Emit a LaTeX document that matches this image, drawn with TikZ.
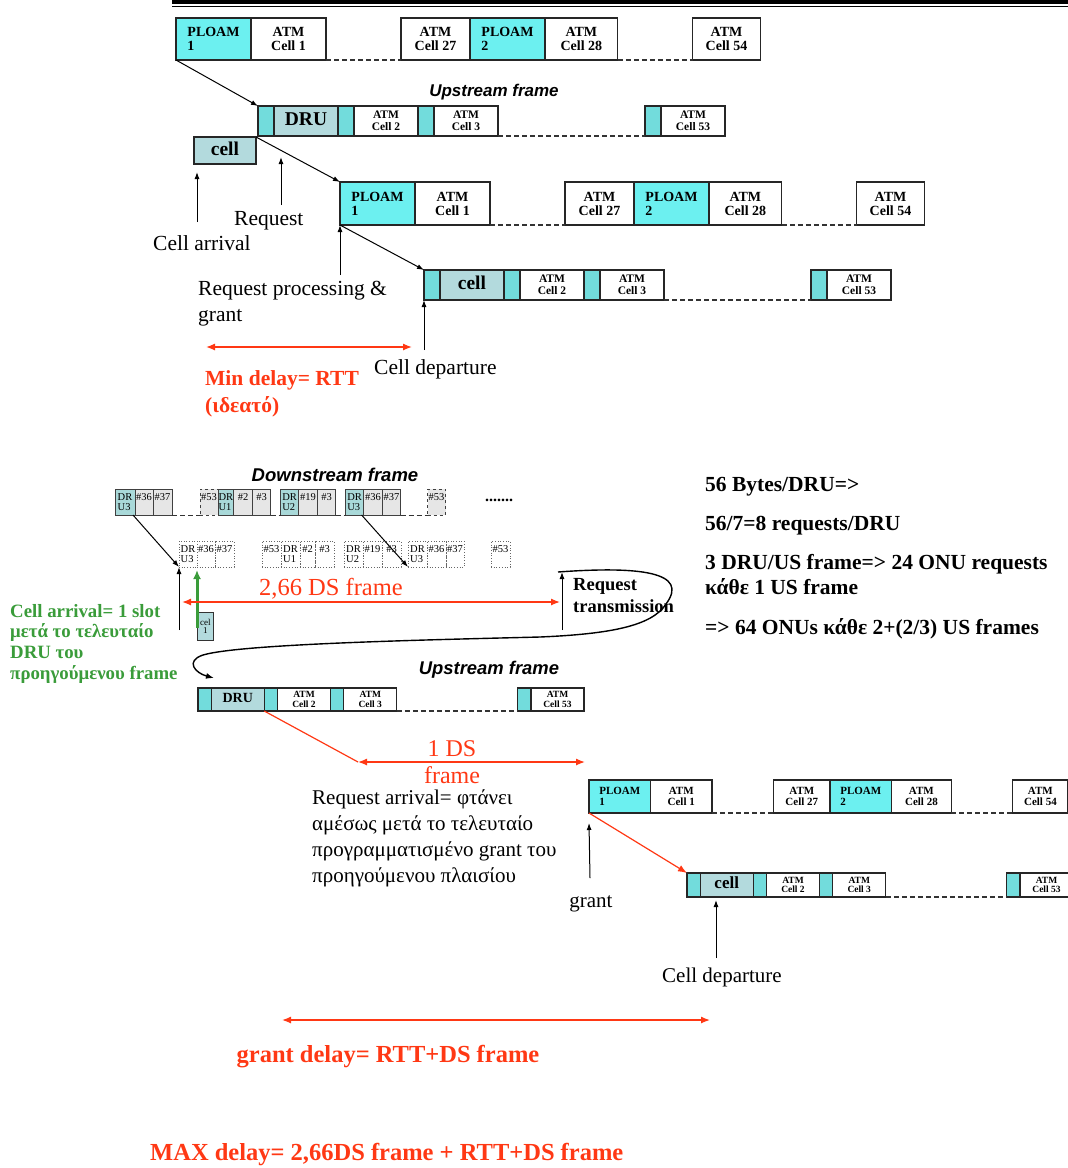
\documentclass[tikz,border=0pt]{standalone}
\usepackage{fontspec}
\setmainfont{Liberation Serif}
\setsansfont{Liberation Sans}
\usetikzlibrary{positioning}
\usetikzlibrary{arrows.meta}

\definecolor{ploam}{HTML}{6CF0F0}
\definecolor{guard}{HTML}{72DCDC}
\definecolor{drublue}{HTML}{B3DADD}
\definecolor{drcol}{HTML}{A9D9D9}
\definecolor{numgray}{HTML}{E6E6E6}
\definecolor{delayred}{HTML}{FF3814}
\definecolor{notegreen}{HTML}{3A9C3A}

\newcommand{\fsz}[2]{\fontsize{#1}{#2}\selectfont}

% downstream frame: name, x, y, unit, height, font size
\newcommand{\dsframe}[6]{%
\node[pl, minimum width=#4, minimum height=#5, font=\bfseries\fsz{#6}{#6}] (pa#1) at (#2,#3) {PLOAM\\1};
\node[atm, minimum width=#4, minimum height=#5, font=\bfseries\fsz{#6}{#6}, right=0pt of pa#1] (ca#1) {ATM\\Cell 1};
\node[atm, minimum width=0.92*#4, minimum height=#5, font=\bfseries\fsz{#6}{#6}, right=#4pt of ca#1] (cb#1) {ATM\\Cell 27};
\node[pl, minimum width=#4, minimum height=#5, font=\bfseries\fsz{#6}{#6}, right=0pt of cb#1] (pb#1) {PLOAM\\2};
\node[atm, minimum width=0.97*#4, minimum height=#5, font=\bfseries\fsz{#6}{#6}, right=0pt of pb#1] (cc#1) {ATM\\Cell 28};
\node[atm, minimum width=0.9*#4, minimum height=#5, font=\bfseries\fsz{#6}{#6}, right=#4pt of cc#1] (cd#1) {ATM\\Cell 54};
\draw[gapline] (ca#1.south east) -- (cb#1.south west) (cc#1.south east) -- (cd#1.south west);
}

% upstream frame: name, x, y, unit, height, font size, first slot, its font size, gap
\newcommand{\usframe}[9]{%
\node[gd, minimum width=0.25*#4, minimum height=#5] (ga#1) at (#2,#3) {};
\node[du, minimum width=#4, minimum height=#5, font=\bfseries\fsz{#8}{#8}, right=0pt of ga#1] (du#1) {#7};
\node[gd, minimum width=0.25*#4, minimum height=#5, right=0pt of du#1] (gb#1) {};
\node[atm, minimum width=#4, minimum height=#5, font=\bfseries\fsz{#6}{#6}, right=0pt of gb#1] (ub#1) {ATM\\Cell 2};
\node[gd, minimum width=0.25*#4, minimum height=#5, right=0pt of ub#1] (gc#1) {};
\node[atm, minimum width=#4, minimum height=#5, font=\bfseries\fsz{#6}{#6}, right=0pt of gc#1] (uc#1) {ATM\\Cell 3};
\node[gd, minimum width=0.25*#4, minimum height=#5, right=#9pt of uc#1] (gx#1) {};
\node[atm, minimum width=#4, minimum height=#5, font=\bfseries\fsz{#6}{#6}, right=0pt of gx#1] (ud#1) {ATM\\Cell 53};
\draw[gapline] (uc#1.south east) -- (gx#1.south west);
}

\begin{document}
\begin{tikzpicture}[x=1pt, y=-1pt,
  slt/.style={draw=black!85, line width=1.3pt, inner sep=0pt, outer sep=0pt, anchor=north west},
  pl/.style={slt, fill=ploam, align=left},
  atm/.style={slt, fill=white, align=center},
  gd/.style={slt, fill=guard},
  du/.style={slt, fill=drublue, text depth=0.4em},
  gapline/.style={line width=1.1pt, dash pattern=on 5pt off 3pt, black!80},
  rowbox/.style={draw=black!75, line width=0.7pt, inner sep=0.5pt, outer sep=0pt, anchor=north west, align=left, minimum height=26, font=\fsz{10.5}{10}},
  drb/.style={rowbox, fill=drcol},
  nmb/.style={rowbox, fill=numgray},
  dtb/.style={rowbox, draw=black!60, dotted},
  lbl/.style={inner sep=0pt, font=\fsz{21.5}{26}},
  blbl/.style={inner sep=0pt, font=\bfseries\fsz{21.5}{25}},
  ttl/.style={inner sep=0pt, font=\sffamily\bfseries\itshape\fsz{18}{18}},
  arr/.style={-{Latex[length=7pt,width=5pt]}, line width=1pt},
  rarr/.style={{Latex[length=9pt,width=7pt]}-{Latex[length=9pt,width=7pt]}, line width=1.3pt, draw=delayred},
  rline/.style={line width=1.2pt, draw=delayred}]
\useasboundingbox (0,0) rectangle (1068,1168);

% header rule
\coordinate (hl) at (172,2);
\coordinate (hr) at (1068,2);
\draw[line width=4pt] (hl) -- (hr);
\draw[line width=1.2pt] ([yshift=-4.5pt]hl) -- ([yshift=-4.5pt]hr);

% minimum delay case
\dsframe{A}{176}{18}{75}{42}{14}
\node[ttl, font=\sffamily\bfseries\itshape\fsz{17}{17}] (usA) at (494,92) {Upstream frame};
\usframe{B}{258}{106}{64}{30}{11.5}{DRU}{19.5}{147}
\node[du, minimum width=62, minimum height=27, font=\bfseries\fsz{19.5}{19.5}] (cellb) at (194,137) {cell};
\dsframe{C}{340}{182}{75}{43}{14}
\usframe{D}{424}{270}{64}{30}{11.5}{cell}{19.5}{147}

\draw[arr] (paA.south west) -- (gaB.north west);
\draw[arr] (cellb.north east) -- (paC.north west);
\draw[arr] (paC.south west) -- (gaD.north west);

\node[lbl, anchor=west] (lreq) at (234,221) {Request};
\node[lbl, anchor=west] (larr) at (153,243) {Cell arrival};
\node[lbl, anchor=north west, align=left] (lproc) at (198,281) {Request processing \&\\grant};
\node[lbl, anchor=west] (ldep) at (374,369) {Cell departure};
\node[blbl, anchor=north west, align=left, text=delayred, font=\bfseries\fsz{21.5}{27}] (lmin) at (205,370) {Min delay= RTT\\(ιδεατό)};

\coordinate (arvB) at (197,222);
\coordinate (arvT) at (197,172);
\coordinate (rqB) at (281,205);
\coordinate (rqT) at (281,157);
\coordinate (rpB) at (340,275);
\coordinate (cdB) at (424,350);
\coordinate (mdL) at (206,347);
\coordinate (mdR) at (412,347);
\draw[arr] (arvB) -- (arvT);
\draw[arr] (rqB) -- (rqT);
\draw[arr] (rpB) -- (paC.south west);
\draw[arr] (cdB) -- (gaD.south west);
\draw[rarr] (mdL) -- (mdR);

% maximum delay case
\node[ttl, font=\sffamily\bfseries\itshape\fsz{18.5}{18.5}] (dsT) at (335,475) {Downstream frame};
\node[drb, minimum width=20] (ra1) at (115,489) {DR\\U3};
\node[nmb, minimum width=18, right=0pt of ra1] (ra2) {\#36\\~};
\node[nmb, minimum width=19, right=0pt of ra2] (ra3) {\#37\\~};
\node[nmb, dashed, minimum width=18, right=28pt of ra3] (ra4) {\#53\\~};
\node[drb, minimum width=15, right=0pt of ra4] (ra5) {DR\\U1};
\node[nmb, minimum width=19, right=0pt of ra5] (ra6) {\#2\\~};
\node[nmb, minimum width=18, right=0pt of ra6] (ra7) {\#3\\~};
\node[drb, minimum width=18, right=10pt of ra7] (ra8) {DR\\U2};
\node[nmb, minimum width=19, right=0pt of ra8] (ra9) {\#19\\~};
\node[nmb, minimum width=18, right=0pt of ra9] (ra10) {\#3\\~};
\node[drb, minimum width=18, right=10pt of ra10] (ra11) {DR\\U3};
\node[nmb, minimum width=19, right=0pt of ra11] (ra12) {\#36\\~};
\node[nmb, minimum width=18, right=0pt of ra12] (ra13) {\#37\\~};
\node[nmb, dashed, minimum width=18, right=27pt of ra13] (ra14) {\#53\\~};
\draw[gapline, line width=0.9pt] (ra3.south east) -- (ra4.south west) (ra7.south east) -- (ra8.south west) (ra10.south east) -- (ra11.south west) (ra13.south east) -- (ra14.south west);
\node[inner sep=0pt, font=\bfseries\fsz{16}{16}] (dots) at (499,500) {.......};

\node[dtb, minimum width=18] (rb1) at (179,541) {DR\\U3};
\node[dtb, minimum width=18, right=0pt of rb1] (rb2) {\#36\\~};
\node[dtb, minimum width=19, right=0pt of rb2] (rb3) {\#37\\~};
\node[dtb, minimum width=19, right=28pt of rb3] (rb4) {\#53\\~};
\node[dtb, minimum width=19, right=0pt of rb4] (rb5) {DR\\U1};
\node[dtb, minimum width=15, right=0pt of rb5] (rb6) {\#2\\~};
\node[dtb, minimum width=19, right=0pt of rb6] (rb7) {\#3\\~};
\node[dtb, minimum width=19, right=10pt of rb7] (rb8) {DR\\U2};
\node[dtb, minimum width=19, right=0pt of rb8] (rb9) {\#19\\~};
\node[dtb, minimum width=19, right=0pt of rb9] (rb10) {\#3\\~};
\node[dtb, minimum width=19, right=7pt of rb10] (rb11) {DR\\U3};
\node[dtb, minimum width=19, right=0pt of rb11] (rb12) {\#36\\~};
\node[dtb, minimum width=18, right=0pt of rb12] (rb13) {\#37\\~};
\node[dtb, minimum width=19, right=27pt of rb13] (rb14) {\#53\\~};
\draw[arr] ([xshift=-2pt]ra1.south east) -- (rb1.south west);
\draw[arr] ([xshift=-2pt]ra11.south east) -- (rb11.south west);

\node[draw=black!80, line width=0.8pt, fill=drublue, anchor=north west, inner sep=0pt, minimum width=16, minimum height=28, align=center, font=\fsz{9}{8}] (cel1) at (197,612) {cel\\1};
\coordinate (caB) at (179,630);
\coordinate (grB) at (197,628);
\coordinate (dfL) at (182,602);
\coordinate (dfR) at (560,602);
\coordinate (rtB) at (562,630);
\coordinate (rtT) at (562,572);
\coordinate (rtxa) at (558,572);
\coordinate (rtxb) at (214,678);
\draw[arr] (caB) -- (rb1.south west);
\draw[-{Latex[length=9pt,width=8pt]}, line width=3pt, draw=notegreen, shorten >=3pt] (grB) -- (rb1.south east);
\draw[rarr] (dfL) -- (dfR);
\draw[arr] (rtB) -- (rtT);
\node[inner sep=0pt, text=delayred, font=\fsz{24.5}{24.5}] (l266) at (331,589) {2,66 DS frame};
\node[inner sep=0pt, anchor=north west, align=left, font=\bfseries\fsz{18.5}{22}] (lrtx) at (573,578) {Request\\transmission};
\draw[line width=1.4pt, -{Latex[length=8pt,width=6pt]}] (rtxa) .. controls (640,566) and (690,572) .. (666,604) .. controls (652,626) and (610,634) .. (540,637) .. controls (420,640) and (240,644) .. (203,655) .. controls (185,661) and (195,673) .. (rtxb);
\node[inner sep=0pt, anchor=north west, align=left, text=notegreen, font=\bfseries\fsz{18.8}{20.7}] (lgreen) at (10,604) {Cell arrival= 1 slot\\μετά το τελευταίο\\DRU του\\προηγούμενου frame};
\node[blbl, anchor=north west, align=left] (lcalc) at (705,477) {56 Bytes/DRU=>\\[14pt]56/7=8 requests/DRU\\[14pt]3 DRU/US frame=> 24 ONU requests\\κάθε 1 US frame\\[15pt]=> 64 ONUs κάθε 2+(2/3) US frames};

\node[ttl, font=\sffamily\bfseries\itshape\fsz{18.4}{18.4}] (usE) at (489,670) {Upstream frame};
\usframe{E}{198}{688}{53}{23}{9.5}{DRU}{14}{121}
\dsframe{F}{589}{780}{61.5}{33}{11}
\usframe{G}{687}{873}{53}{24}{9.5}{cell}{17}{121}

\coordinate (ofL) at (358,762);
\coordinate (ofR) at (585,762);
\draw[rline] (duE.south east) -- (ofL);
\draw[rarr] (ofL) -- (ofR);
\node[inner sep=0pt, align=center, text=delayred, font=\fsz{24}{27}] (l1ds) at (452,762) {1 DS\\frame};
\draw[rline, -{Latex[length=9pt,width=7pt]}] (paF.south west) -- (gaG.north west);

\coordinate (gtB) at (590,878);
\coordinate (cdB2) at (716,958);
\coordinate (cdT2) at (716,900);
\draw[arr] (gtB) -- ([yshift=-10pt]paF.south west);
\draw[arr] (cdB2) -- (cdT2);
\node[lbl, font=\fsz{21}{21}] (lgrant) at (591,904) {grant};
\node[lbl, font=\fsz{21}{21}] (ldep2) at (722,977) {Cell departure};
\node[lbl, anchor=north west, align=left, font=\fsz{21}{26}] (lreqarr) at (312,789) {Request arrival= φτάνει\\αμέσως μετά το τελευταίο\\προγραμματισμένο grant του\\προηγούμενου πλαισίου};

\coordinate (gdL) at (282,1020);
\coordinate (gdR) at (710,1020);
\draw[rarr] (gdL) -- (gdR);
\node[inner sep=0pt, text=delayred, font=\bfseries\fsz{24.5}{24.5}] (lgdel) at (388,1057) {grant delay= RTT+DS frame};
\node[inner sep=0pt, anchor=west, text=delayred, font=\bfseries\fsz{24.5}{24.5}] (lmax) at (150,1155) {MAX delay= 2,66DS frame + RTT+DS frame};
\end{tikzpicture}
\end{document}
